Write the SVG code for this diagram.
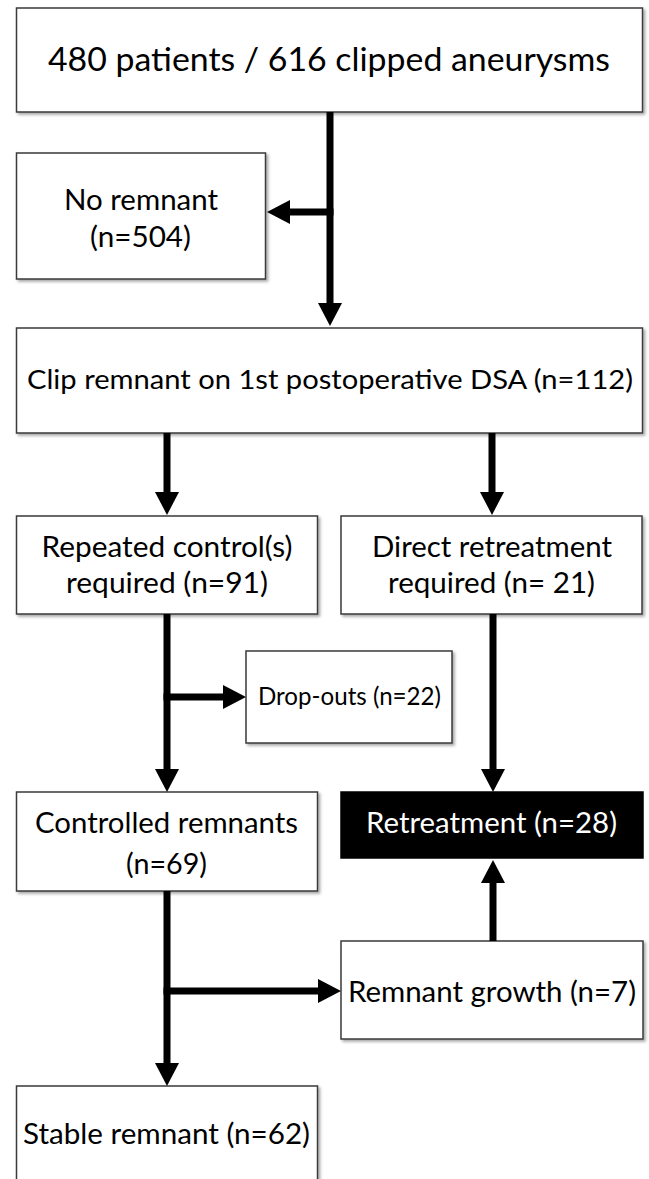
<svg xmlns="http://www.w3.org/2000/svg" width="649" height="1179" viewBox="0 0 649 1179">
<style>
.box{fill:#fff;stroke:#3a3a3a;stroke-width:1.5;filter:url(#sh)}
.dark{fill:#000;stroke:#000;stroke-width:1.5}
.t{font-family:Lato,"Open Sans","Liberation Sans",sans-serif;font-size:28px;fill:#000}
.big{font-size:33px}
.m{font-size:26.5px}
.s{font-size:24.5px}
.w{fill:#fff}
.c{stroke:#000;stroke-width:7;fill:none;marker-end:url(#ah)}
</style>
<defs>
<filter id="sh" x="-5%" y="-5%" width="115%" height="120%">
<feDropShadow dx="2" dy="2" stdDeviation="1.5" flood-color="#000" flood-opacity="0.35"/>
</filter>
<marker id="ah" markerUnits="userSpaceOnUse" markerWidth="24" markerHeight="24" refX="0" refY="12" orient="auto" viewBox="0 0 24 24">
<path d="M0,0 L23,12 L0,24 z" fill="#000"/>
</marker>
</defs>
<g id="n-top">
<rect class="box" x="16.5" y="8" width="626" height="104"/>
<text class="t big" x="48" y="70.5" textLength="562" lengthAdjust="spacingAndGlyphs">480 patients / 616 clipped aneurysms</text>
</g>
<g id="n-noremnant">
<rect class="box" x="16.5" y="153" width="249" height="126"/>
<text class="t" x="64" y="210" textLength="154" lengthAdjust="spacingAndGlyphs">No remnant</text>
<text class="t" x="90" y="246.5" textLength="101" lengthAdjust="spacingAndGlyphs">(n=504)</text>
</g>
<g id="n-clip">
<rect class="box" x="16.5" y="328" width="626" height="105"/>
<text class="t m" x="27" y="388.5" textLength="606" lengthAdjust="spacingAndGlyphs">Clip remnant on 1st postoperative DSA (n=112)</text>
</g>
<g id="n-repeated">
<rect class="box" x="16.5" y="516" width="301" height="98"/>
<text class="t" x="41.5" y="556.7" textLength="251" lengthAdjust="spacingAndGlyphs">Repeated control(s)</text>
<text class="t" x="66" y="593" textLength="202" lengthAdjust="spacingAndGlyphs">required (n=91)</text>
</g>
<g id="n-direct">
<rect class="box" x="341" y="516" width="301" height="98"/>
<text class="t" x="372" y="556.7" textLength="240" lengthAdjust="spacingAndGlyphs">Direct retreatment</text>
<text class="t" x="388" y="593" textLength="207" lengthAdjust="spacingAndGlyphs">required (n= 21)</text>
</g>
<g id="n-dropouts">
<rect class="box" x="246" y="651" width="206" height="92"/>
<text class="t s" x="258" y="705" textLength="183" lengthAdjust="spacingAndGlyphs">Drop-outs (n=22)</text>
</g>
<g id="n-controlled">
<rect class="box" x="16.5" y="792" width="301" height="99"/>
<text class="t" x="35" y="832.7" textLength="263" lengthAdjust="spacingAndGlyphs">Controlled remnants</text>
<text class="t" x="126" y="874" textLength="81" lengthAdjust="spacingAndGlyphs">(n=69)</text>
</g>
<g id="n-retreatment">
<rect class="dark" x="341" y="792" width="302" height="66"/>
<text class="t w" x="366" y="833" textLength="251" lengthAdjust="spacingAndGlyphs">Retreatment (n=28)</text>
</g>
<g id="n-growth">
<rect class="box" x="341" y="941" width="302" height="98"/>
<text class="t" x="348" y="1001.5" textLength="288" lengthAdjust="spacingAndGlyphs">Remnant growth (n=7)</text>
</g>
<g id="n-stable">
<rect class="box" x="16.5" y="1086" width="301" height="110"/>
<text class="t" x="23" y="1144.3" textLength="287" lengthAdjust="spacingAndGlyphs">Stable remnant (n=62)</text>
</g>
<g id="connectors">
<path class="c" d="M330,112 V303"/>
<path class="c" d="M333.5,212 H290"/>
<path class="c" d="M167,433 V492"/>
<path class="c" d="M492,433 V492"/>
<path class="c" d="M167,614 V769"/>
<path class="c" d="M163.5,697 H223"/>
<path class="c" d="M493,614 V769"/>
<path class="c" d="M167,891 V1063"/>
<path class="c" d="M163.5,991 H318"/>
<path class="c" d="M493,941 V883"/>
</g>
</svg>
